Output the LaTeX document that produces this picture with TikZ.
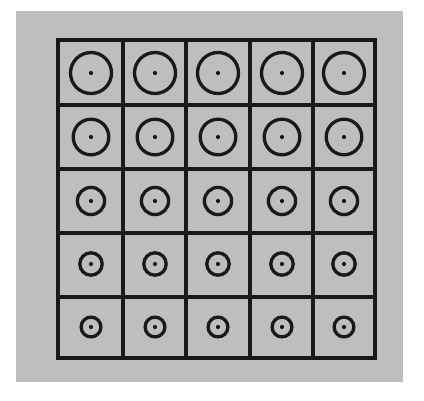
\documentclass[tikz,border=0pt]{standalone}
\begin{document}
\begin{tikzpicture}[x=1pt,y=-1pt,
  paper/.style={fill=white},
  sheet/.style={fill=sheetgray},
  gridline/.style={draw=inkdark,line width=3.2pt,line cap=rect},
  ring/.style={draw=inkdark,line width=3.3pt},
  centerdot/.style={fill=inkdark}]
\definecolor{sheetgray}{RGB}{190,190,190}
\definecolor{inkdark}{RGB}{25,25,25}
\useasboundingbox (0,0) rectangle (424,400);
\fill[paper] (0,0) rectangle (424,400);
\fill[sheet] (16,11) rectangle (403,382);
% grid
\foreach \x in {58,123,186,250,313,375}
  \draw[gridline] (\x,40) -- (\x,358);
\foreach \y in {40,105,169,233,297,358}
  \draw[gridline] (58,\y) -- (375,\y);
% circles
\foreach \y/\r in {73/20.5,137/17.8,201/13.6,264/11.2,327/9.9}
  \foreach \x in {91,155,218,282,344} {
    \draw[ring] (\x,\y) circle (\r);
    \fill[centerdot] (\x,\y) circle (2.1);
  }
\end{tikzpicture}
\end{document}
